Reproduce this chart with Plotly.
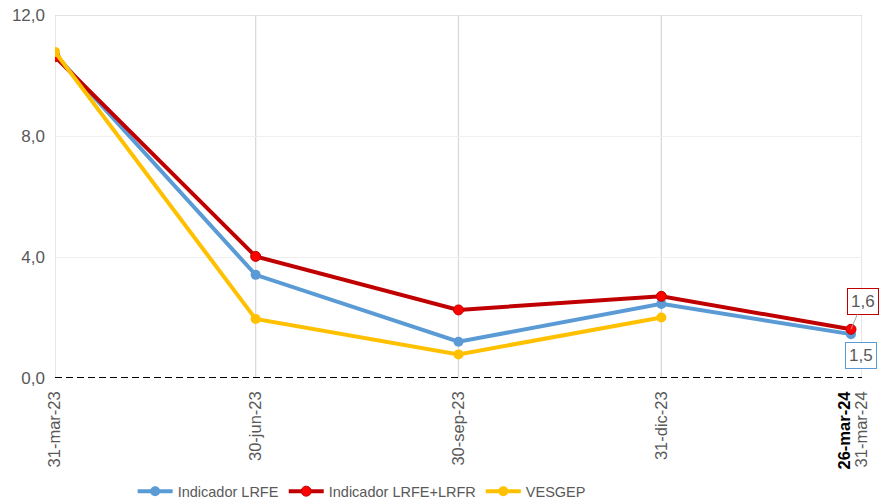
import plotly.graph_objects as go

# ---- data ----
dates = ["2023-03-31", "2023-06-30", "2023-09-30", "2023-12-31", "2024-03-26"]
lrfe = [10.70, 3.41, 1.20, 2.45, 1.45]
lrfe_lrfr = [10.62, 4.02, 2.25, 2.70, 1.61]
vesgep = [10.78, 1.95, 0.78, 2.00, None]

tick_dates = ["2023-03-31", "2023-06-30", "2023-09-30", "2023-12-31", "2024-03-31"]
tick_labels = ["31-mar-23", "30-jun-23", "30-sep-23", "31-dic-23", "31-mar-24"]
cut_date = "2024-03-26"
cut_label = "26-mar-24"
grid_dates = ["2023-03-31", "2023-06-30", "2023-09-30", "2023-12-31", "2024-03-31"]
y_ticks = [0, 4, 8, 12]

GRAY = "#595959"
FONT = "Liberation Sans, Arial, sans-serif"

fig = go.Figure()
fig.add_trace(go.Scatter(
    x=dates, y=lrfe, name="Indicador LRFE", mode="lines+markers",
    line=dict(color="#5B9BD5", width=4), marker=dict(color="#5B9BD5", size=10),
))
fig.add_trace(go.Scatter(
    x=dates, y=lrfe_lrfr, name="Indicador LRFE+LRFR", mode="lines+markers",
    line=dict(color="#C00000", width=4),
    marker=dict(color="#FF0000", size=10, line=dict(color="#C00000", width=1)),
))
fig.add_trace(go.Scatter(
    x=dates, y=vesgep, name="VESGEP", mode="lines+markers",
    line=dict(color="#FFC000", width=4), marker=dict(color="#FFC000", size=10),
))

shapes = []
for d in grid_dates:
    shapes.append(dict(type="line", xref="x", yref="paper", x0=d, x1=d, y0=0, y1=1,
                       line=dict(color="#D9D9D9", width=1.3), layer="below"))
shapes.append(dict(type="line", xref="paper", yref="y", x0=0, x1=1, y0=y_ticks[-1], y1=y_ticks[-1],
                   line=dict(color="#D9D9D9", width=1.3), layer="below"))
shapes.append(dict(type="line", xref="paper", yref="y", x0=0, x1=1, y0=y_ticks[0], y1=y_ticks[0],
                   line=dict(color="#000000", width=1.8, dash="7px,4px"), layer="above"))

annotations = [
    dict(x=dates[-1], y=lrfe_lrfr[-1], xref="x", yref="y",
         text="1,6", showarrow=True, ax=12, ay=-28, arrowhead=0, arrowwidth=1,
         arrowcolor="#A6A6A6", standoff=0,
         font=dict(family=FONT, size=17, color=GRAY),
         bordercolor="#C00000", borderwidth=1, borderpad=3, bgcolor="white"),
    dict(x=dates[-1], y=lrfe[-1], xref="x", yref="y",
         text="1,5", showarrow=False, xshift=10, yshift=-21,
         font=dict(family=FONT, size=17, color=GRAY),
         bordercolor="#5B9BD5", borderwidth=1, borderpad=3, bgcolor="white"),
    dict(x=cut_date, y=0, xref="x", yref="paper", yanchor="top", xanchor="center",
         text="<b>" + cut_label + "</b>", textangle=-90, showarrow=False,
         xshift=-7, yshift=-10,
         font=dict(family=FONT, size=16.5, color="#000000")),
]

fig.update_layout(
    width=879, height=504,
    margin=dict(l=55, r=17, t=15, b=126, autoexpand=False),
    paper_bgcolor="white", plot_bgcolor="white",
    separators=",.",
    font=dict(family=FONT, color=GRAY, size=16),
    shapes=shapes, annotations=annotations,
    showlegend=True,
    legend=dict(orientation="h", x=0.38, xanchor="center", y=-0.312, yanchor="middle",
                font=dict(family=FONT, size=14.5, color=GRAY),
                itemwidth=35, tracegroupgap=0),
    hovermode=False,
)
fig.update_xaxes(
    type="date", range=[grid_dates[0], grid_dates[-1]], automargin=False,
    tickmode="array", tickvals=tick_dates, ticktext=tick_labels,
    tickangle=-90, showgrid=False, zeroline=False, showline=False,
    ticklabelstandoff=9, tickfont=dict(family=FONT, size=16.5, color=GRAY),
)
fig.update_yaxes(
    range=[0, 12], tickmode="array", tickvals=y_ticks, tickformat=".1f", automargin=False,
    showgrid=True, gridcolor="#EFEFEF", gridwidth=1.3, zeroline=False, showline=False,
    ticklabelstandoff=9, tickfont=dict(family=FONT, size=17, color=GRAY),
)

fig.write_html(
    "out.html",
    config={"displayModeBar": False},
    post_script="document.body.style.margin='0';document.body.style.padding='0';",
)
